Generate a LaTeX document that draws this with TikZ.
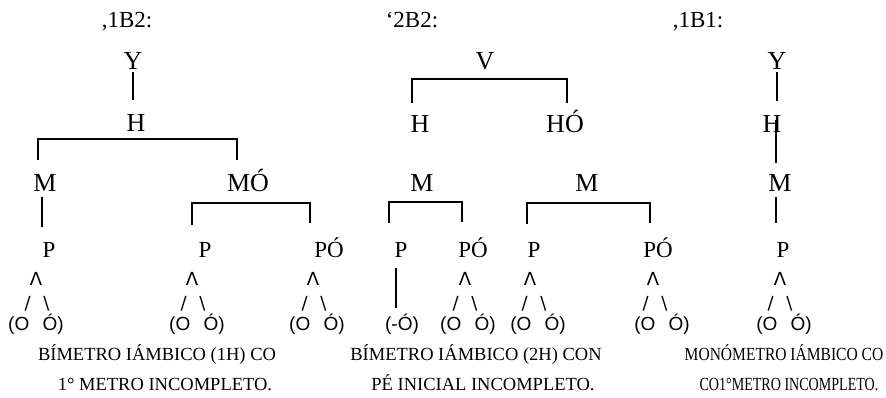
\documentclass[tikz,border=0pt]{standalone}
\usepackage{fontspec}
\setmainfont{Liberation Serif}
\newfontfamily\lsans{Liberation Sans}
\newfontfamily\dsans{DejaVu Sans}
\newcommand\sylOO{(O\hspace{0.7em}Ó)}
\newcommand\mySlashes{/\hspace{0.7em}\textbackslash}
\tikzset{
  lbl/.style={anchor=base, inner sep=0pt, font=\fontsize{26}{30}\selectfont},
  plbl/.style={anchor=base, inner sep=0pt, font=\fontsize{23}{27}\selectfont},
  hdr/.style={anchor=base, inner sep=0pt, font=\fontsize{23}{27}\selectfont},
  wedge/.style={anchor=base, inner sep=0pt, font=\dsans\fontsize{18}{21}\selectfont},
  syl/.style={anchor=base, inner sep=0pt, font=\lsans\fontsize{19}{22}\selectfont},
  captxt/.style={anchor=base, inner sep=0pt, font=\fontsize{18.5}{22}\selectfont},
  link/.style={line width=1.4pt}
}
\begin{document}
\begin{tikzpicture}[x=1pt,y=-1pt]
\useasboundingbox (0,0) rectangle (886,398);
\fill[white] (0,0) rectangle (886,398);

% headers
\node[hdr] (hd1) at (127,28) {,1B2:};
\node[hdr] (hd2) at (412,28) {‘2B2:};
\node[hdr] (hd3) at (698,28) {,1B1:};

% ---------- tree 1
\node[lbl] (Y1) at (133,70) {Y};
\node[lbl] (H1) at (136,132) {H};
\node[lbl] (M1) at (45,192) {M};
\node[lbl] (MO1) at (248,192) {MÓ};
\node[plbl] (P1a) at (49,258) {P};
\node[plbl] (P1b) at (205,258) {P};
\node[plbl] (PO1) at (329,258) {PÓ};

\draw[link, shorten <=2pt, shorten >=15pt] (Y1.south) -- (Y1.south |- H1.north);
\draw[link] ([shift={(-7pt,32pt)}]M1.base) |- ([yshift=-7pt]H1.base) -| ([shift={(-11pt,32pt)}]MO1.base);
\draw[link] ([shift={(-3pt,-5pt)}]M1.base) -- ([shift={(-7pt,31pt)}]P1a.base);
\draw[link] ([shift={(-13pt,33pt)}]P1b.base) |- ([yshift=-11pt]MO1.base) -| ([shift={(-19pt,35pt)}]PO1.base);

\node[wedge] (W1a) at (36,285) {Λ};
\node[wedge] (S1a) at (37,309) {\mySlashes};
\node[syl] (O1a) at (36,330) {\sylOO};
\node[wedge] (W1b) at (192,285) {Λ};
\node[wedge] (S1b) at (193,309) {\mySlashes};
\node[syl] (O1b) at (197,330) {\sylOO};
\node[wedge] (W1c) at (313,285) {Λ};
\node[wedge] (S1c) at (314,309) {\mySlashes};
\node[syl] (O1c) at (317,330) {\sylOO};

\node[captxt] (C1a) at (157,360) {BÍMETRO IÁMBICO (1H) CO};
\node[captxt] (C1b) at (165,390) {1° METRO INCOMPLETO.};

% ---------- tree 2
\node[lbl] (V2) at (485,70) {V};
\node[lbl] (H2) at (420,133) {H};
\node[lbl] (HO2) at (565,133) {HÓ};
\node[lbl] (M2a) at (422,192) {M};
\node[lbl] (M2b) at (587,192) {M};
\node[plbl] (P2a) at (401,258) {P};
\node[plbl] (PO2) at (473,258) {PÓ};
\node[plbl] (P2c) at (534,258) {P};
\node[plbl] (PO3) at (658,258) {PÓ};

\draw[link] ([shift={(-8pt,30pt)}]H2.base) |- ([yshift=-9pt]V2.base) -| ([shift={(2pt,30pt)}]HO2.base);
\draw[link] ([shift={(-12pt,35pt)}]P2a.base) |- ([yshift=-10pt]M2a.base) -| ([shift={(-11pt,36pt)}]PO2.base);
\draw[link] ([shift={(-7pt,34pt)}]P2c.base) |- ([yshift=-11pt]M2b.base) -| ([shift={(-8pt,35pt)}]PO3.base);

\node[syl] (N2a) at (402,330) {(-Ó)};
\draw[link] ([shift={(-5pt,-10pt)}]P2a.base) -- ([shift={(-6pt,22pt)}]N2a.base);

\node[wedge] (W2b) at (465,285) {Λ};
\node[wedge] (S2b) at (465,309) {\mySlashes};
\node[syl] (O2b) at (468,330) {\sylOO};
\node[wedge] (W2c) at (530,285) {Λ};
\node[wedge] (S2c) at (534,309) {\mySlashes};
\node[syl] (O2c) at (538,330) {\sylOO};
\node[wedge] (W2d) at (653,285) {Λ};
\node[wedge] (S2d) at (655,309) {\mySlashes};
\node[syl] (O2d) at (662,330) {\sylOO};

\node[captxt] (C2a) at (476,360) {BÍMETRO IÁMBICO (2H) CON};
\node[captxt] (C2b) at (483,390) {PÉ INICIAL INCOMPLETO.};

% ---------- tree 3
\node[lbl] (Y3) at (777,70) {Y};
\node[lbl] (H3) at (772,133) {H};
\node[lbl] (M3) at (780,192) {M};
\node[plbl] (P3) at (783,258) {P};

\draw[link, shorten <=2pt, shorten >=15pt] (Y3.south) -- (Y3.south |- H3.north);
\draw[link] ([shift={(4pt,13pt)}]H3.base) -- ([shift={(-4pt,29pt)}]M3.base);
\draw[link] ([shift={(-4pt,-5pt)}]M3.base) -- ([shift={(-7pt,35pt)}]P3.base);

\node[wedge] (W3) at (780,285) {Λ};
\node[wedge] (S3) at (780,309) {\mySlashes};
\node[syl] (O3) at (784,330) {\sylOO};

\node[captxt] (C3a) at (784,360) {\scalebox{0.84}[1]{MONÓMETRO IÁMBICO CO}};
\node[captxt] (C3b) at (789,390) {\scalebox{0.76}[1]{CO1°METRO INCOMPLETO.}};
\end{tikzpicture}
\end{document}
